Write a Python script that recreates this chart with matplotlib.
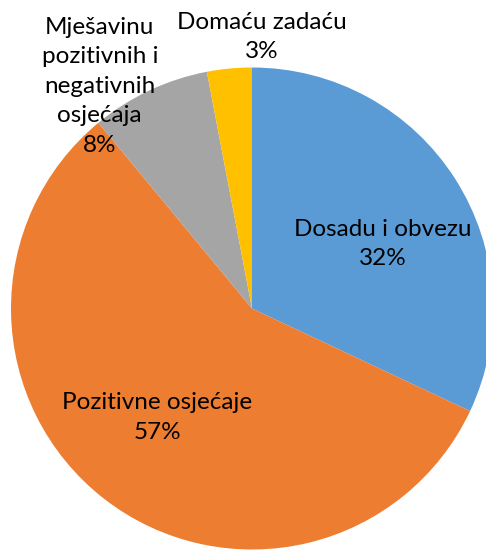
import matplotlib
matplotlib.use("Agg")
import matplotlib.pyplot as plt
import numpy as np

# answers, clockwise from 12 o'clock
labels = ["Dosadu i obvezu", "Pozitivne osjećaje",
          "Mješavinu\npozitivnih i\nnegativnih\nosjećaja", "Domaću zadaću"]
values = [32, 57, 8, 3]
colors = ["#5B9BD5", "#ED7D31", "#A5A5A5", "#FFC000"]

# label placement: (distance from centre, angle in degrees)
label_pos = [(0.605, 26.2), (0.60, 229.0), (1.118, 124.4), (1.127, 88.0)]

plt.rcParams['font.family'] = ['Lato', 'DejaVu Sans']

fig = plt.figure(figsize=(4.86, 5.5), dpi=100)
ax = fig.add_axes([0, 0, 1, 1])
wedges, _ = ax.pie(values, colors=colors, startangle=90, counterclock=False,
                   radius=1.0, wedgeprops=dict(linewidth=0))

for lab, v, (r, a) in zip(labels, values, label_pos):
    x = r * np.cos(np.radians(a))
    y = r * np.sin(np.radians(a))
    ax.text(x, y, lab + "\n" + str(v) + "%", ha="center", va="center",
            fontsize=17.5, linespacing=1.5, color="#000000")

ax.set_aspect("auto")
ax.set_xlim(-252 / 241, (486 - 252) / 241)
ax.set_ylim(-(550 - 308.5) / 241, 308.5 / 241)
ax.axis("off")

fig.savefig("out.png", dpi=100)
